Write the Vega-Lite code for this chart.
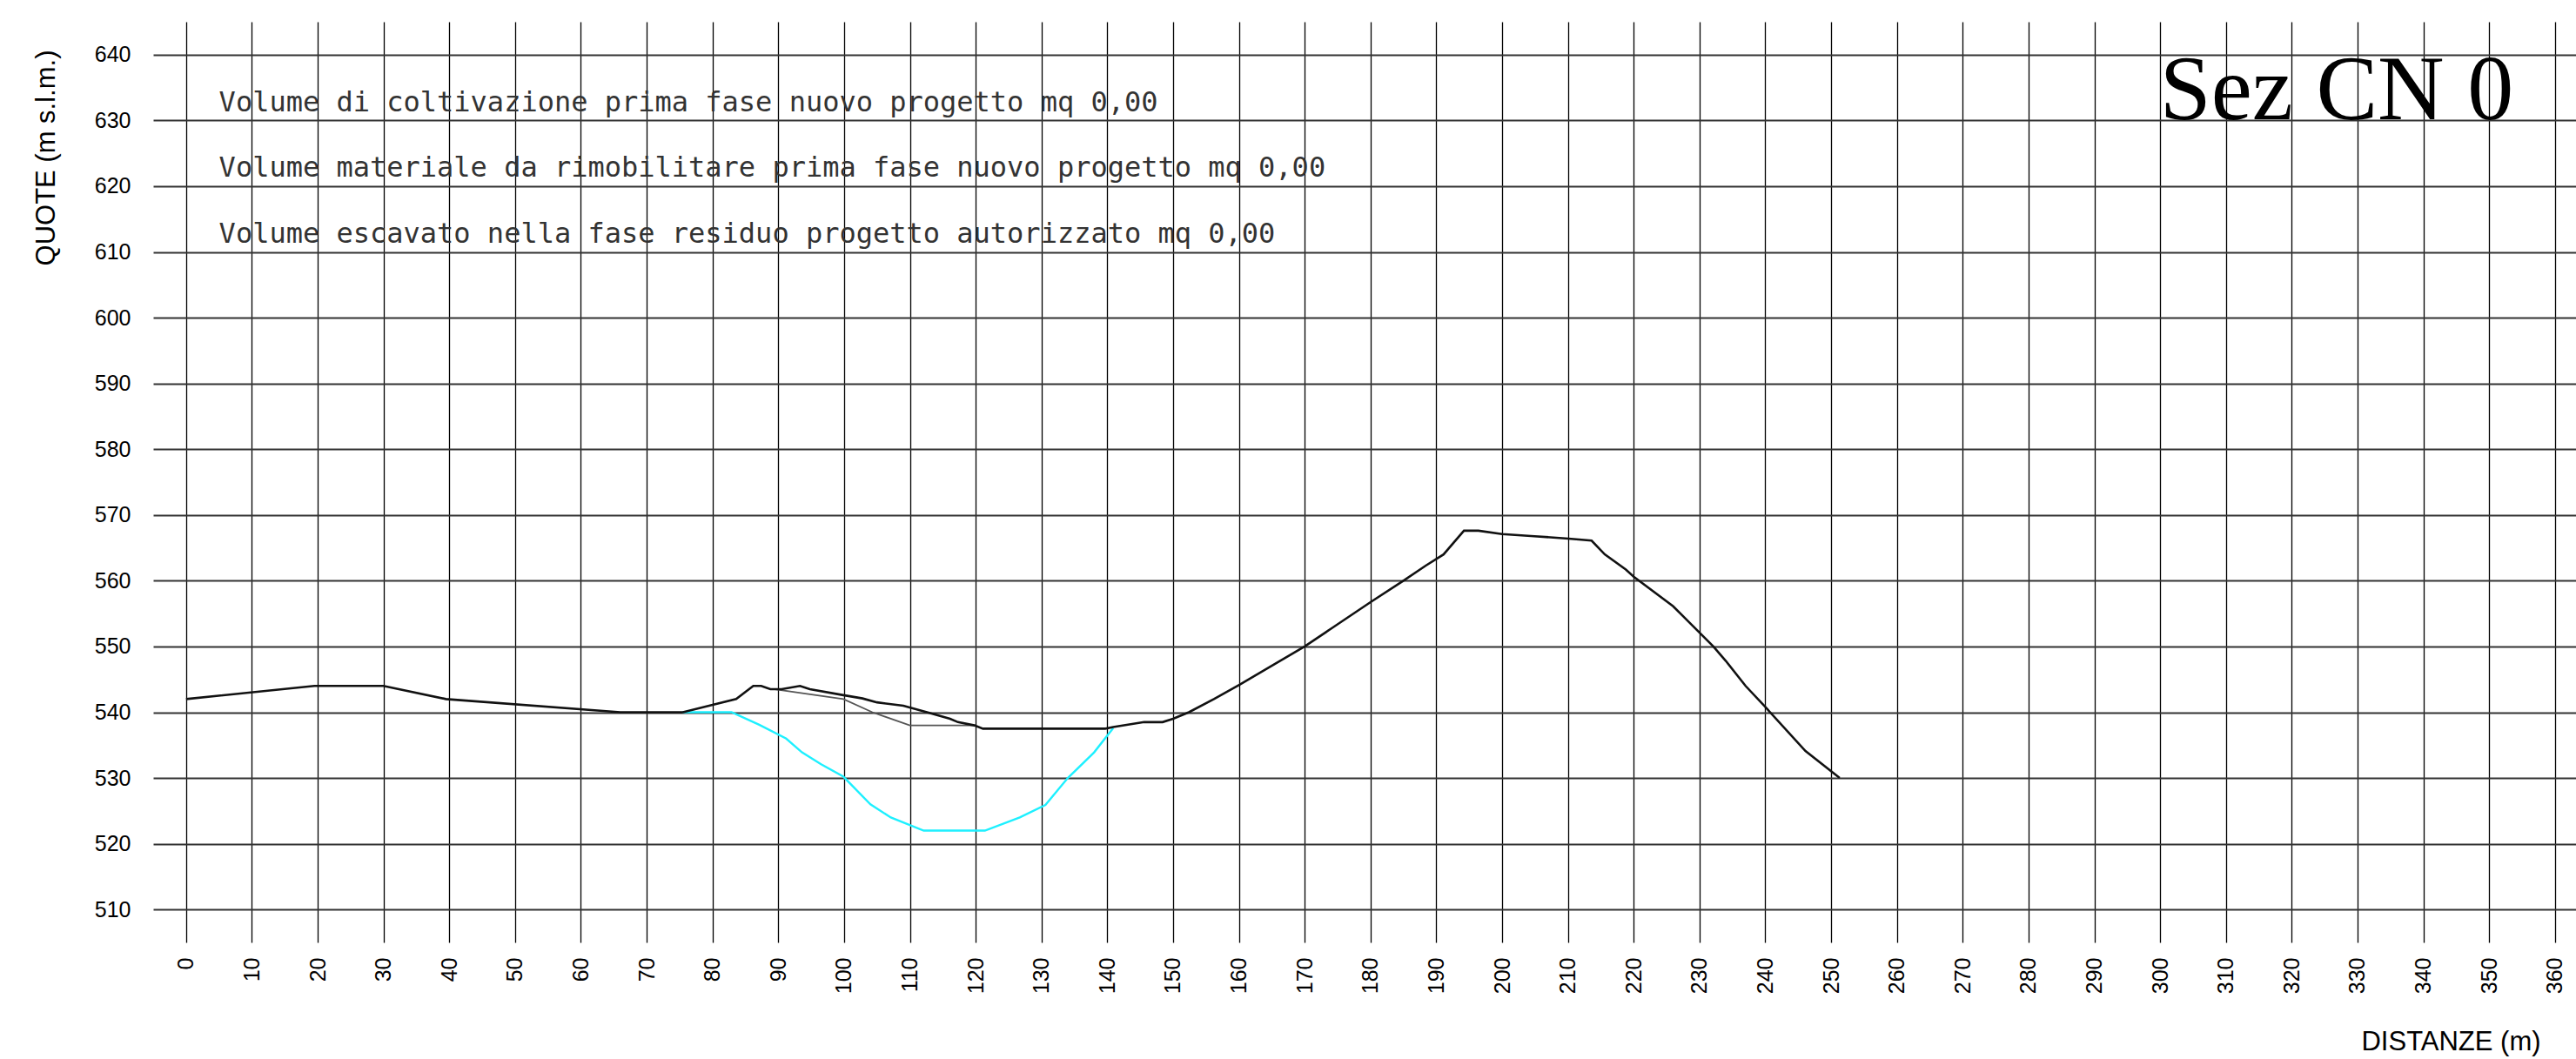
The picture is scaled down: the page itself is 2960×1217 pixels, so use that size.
{
  "$schema": "https://vega.github.io/schema/vega-lite/v6.json",
  "width": 2784,
  "height": 1058,
  "autosize": {"type": "none"},
  "padding": {"left": 176, "top": 25, "right": 0, "bottom": 134},
  "background": "white",
  "config": {"view": {"stroke": null}},
  "datasets": {
    "profile": [
      {"s": "terreno", "x": 0, "y": 542},
      {"s": "terreno", "x": 19.5, "y": 544},
      {"s": "terreno", "x": 30, "y": 544},
      {"s": "terreno", "x": 39.5, "y": 542},
      {"s": "terreno", "x": 66, "y": 540},
      {"s": "terreno", "x": 75.5, "y": 540},
      {"s": "terreno", "x": 83.6, "y": 542},
      {"s": "terreno", "x": 86.2, "y": 544},
      {"s": "terreno", "x": 87.4, "y": 544},
      {"s": "terreno", "x": 88.8, "y": 543.5},
      {"s": "terreno", "x": 90.5, "y": 543.5},
      {"s": "terreno", "x": 93.3, "y": 544},
      {"s": "terreno", "x": 94.8, "y": 543.5},
      {"s": "terreno", "x": 99.9, "y": 542.6},
      {"s": "terreno", "x": 102.8, "y": 542.1},
      {"s": "terreno", "x": 105, "y": 541.5},
      {"s": "terreno", "x": 109, "y": 541},
      {"s": "terreno", "x": 112.6, "y": 540},
      {"s": "terreno", "x": 116.1, "y": 539},
      {"s": "terreno", "x": 117.3, "y": 538.5},
      {"s": "terreno", "x": 119.8, "y": 538},
      {"s": "terreno", "x": 121.1, "y": 537.5},
      {"s": "terreno", "x": 139.7, "y": 537.5},
      {"s": "terreno", "x": 140.9, "y": 537.75},
      {"s": "terreno", "x": 145.6, "y": 538.5},
      {"s": "terreno", "x": 148.4, "y": 538.5},
      {"s": "terreno", "x": 150, "y": 539},
      {"s": "terreno", "x": 152.4, "y": 540},
      {"s": "terreno", "x": 156.2, "y": 542},
      {"s": "terreno", "x": 160.1, "y": 544.2},
      {"s": "terreno", "x": 170, "y": 550},
      {"s": "terreno", "x": 174, "y": 552.7},
      {"s": "terreno", "x": 180.1, "y": 556.8},
      {"s": "terreno", "x": 185, "y": 560},
      {"s": "terreno", "x": 188.4, "y": 562.3},
      {"s": "terreno", "x": 191.1, "y": 564},
      {"s": "terreno", "x": 194.2, "y": 567.6},
      {"s": "terreno", "x": 196.4, "y": 567.6},
      {"s": "terreno", "x": 200, "y": 567.1},
      {"s": "terreno", "x": 204.4, "y": 566.8},
      {"s": "terreno", "x": 210.1, "y": 566.4},
      {"s": "terreno", "x": 213.6, "y": 566.1},
      {"s": "terreno", "x": 215.6, "y": 564},
      {"s": "terreno", "x": 218.8, "y": 561.7},
      {"s": "terreno", "x": 220, "y": 560.6},
      {"s": "terreno", "x": 226, "y": 556.1},
      {"s": "terreno", "x": 227.9, "y": 554.2},
      {"s": "terreno", "x": 232.1, "y": 550},
      {"s": "terreno", "x": 234, "y": 547.8},
      {"s": "terreno", "x": 237, "y": 544},
      {"s": "terreno", "x": 240, "y": 540.8},
      {"s": "terreno", "x": 246.1, "y": 534.1},
      {"s": "terreno", "x": 251.3, "y": 530},
      {"s": "autorizzato", "x": 89.5, "y": 543.5},
      {"s": "autorizzato", "x": 99.9, "y": 542},
      {"s": "autorizzato", "x": 104.3, "y": 540},
      {"s": "autorizzato", "x": 110, "y": 538},
      {"s": "autorizzato", "x": 119.9, "y": 538},
      {"s": "scavo", "x": 75.4, "y": 540},
      {"s": "scavo", "x": 82.9, "y": 540},
      {"s": "scavo", "x": 87.1, "y": 538.1},
      {"s": "scavo", "x": 91.2, "y": 536},
      {"s": "scavo", "x": 93.6, "y": 533.9},
      {"s": "scavo", "x": 96.5, "y": 532.1},
      {"s": "scavo", "x": 99.9, "y": 530.2},
      {"s": "scavo", "x": 104, "y": 526},
      {"s": "scavo", "x": 107.1, "y": 524},
      {"s": "scavo", "x": 112.1, "y": 522},
      {"s": "scavo", "x": 121.4, "y": 522},
      {"s": "scavo", "x": 126.7, "y": 524},
      {"s": "scavo", "x": 130.6, "y": 525.9},
      {"s": "scavo", "x": 134, "y": 530},
      {"s": "scavo", "x": 138, "y": 533.9},
      {"s": "scavo", "x": 140.9, "y": 537.6}
    ],
    "notes": [
      {"x": 5, "y": 631.4, "t": "Volume di coltivazione prima fase nuovo progetto mq 0,00"},
      {"x": 5, "y": 621.5, "t": "Volume materiale da rimobilitare prima fase nuovo progetto mq 0,00"},
      {"x": 5, "y": 611.4, "t": "Volume escavato nella fase residuo progetto autorizzato mq 0,00"}
    ],
    "title": [
      {"x": 353.7, "y": 630.2, "t": "Sez CN 0"}
    ]
  },
  "layer": [
    {
      "data": {"name": "profile"},
      "transform": [{"filter": "datum.s === 'autorizzato'"}],
      "mark": {"type": "line", "color": "#555555", "strokeWidth": 1.8},
      "encoding": {
        "x": {
          "field": "x", "type": "quantitative",
          "scale": {"domain": [-5, 363.2], "nice": false, "zero": false},
          "axis": {
            "values": [0,10,20,30,40,50,60,70,80,90,100,110,120,130,140,150,160,170,180,190,200,210,220,230,240,250,260,270,280,290,300,310,320,330,340,350,360],
            "grid": true, "gridColor": "#000000", "gridWidth": 1.3, "gridOpacity": 1,
            "ticks": false, "domain": false,
            "labelAngle": -90, "labelAlign": "right", "labelBaseline": "middle",
            "labelFont": "Liberation Sans", "labelFontSize": 25, "labelColor": "#000000",
            "labelPadding": 17, "labelOverlap": false, "labelFlush": false, "labelBound": false,
            "title": "DISTANZE (m)", "titleFont": "Liberation Sans", "titleFontSize": 31,
            "titleFontWeight": "normal", "titleColor": "#000000",
            "titleX": 2640, "titleY": 123, "titleAlign": "center", "titleBaseline": "alphabetic"
          }
        },
        "y": {
          "field": "y", "type": "quantitative",
          "scale": {"domain": [505, 645], "nice": false, "zero": false},
          "axis": {
            "values": [510,520,530,540,550,560,570,580,590,600,610,620,630,640],
            "grid": true, "gridColor": "#333333", "gridWidth": 1.8, "gridOpacity": 1,
            "ticks": false, "domain": false,
            "labelFont": "Liberation Sans", "labelFontSize": 25, "labelColor": "#000000",
            "labelPadding": 26, "labelOverlap": false, "labelFlush": false,
            "title": "QUOTE (m s.l.m.)", "titleFont": "Liberation Sans", "titleFontSize": 31,
            "titleFontWeight": "normal", "titleColor": "#000000",
            "titleAngle": -90, "titleX": -123, "titleY": 32,
            "titleAlign": "right", "titleBaseline": "middle"
          }
        }
      }
    },
    {
      "data": {"name": "profile"},
      "transform": [{"filter": "datum.s === 'scavo'"}],
      "mark": {"type": "line", "color": "#1ef0ff", "strokeWidth": 2.4},
      "encoding": {
        "x": {"field": "x", "type": "quantitative"},
        "y": {"field": "y", "type": "quantitative"}
      }
    },
    {
      "data": {"name": "profile"},
      "transform": [{"filter": "datum.s === 'terreno'"}],
      "mark": {"type": "line", "color": "#111111", "strokeWidth": 2.6},
      "encoding": {
        "x": {"field": "x", "type": "quantitative"},
        "y": {"field": "y", "type": "quantitative"}
      }
    },
    {
      "data": {"name": "notes"},
      "mark": {"type": "text", "align": "left", "baseline": "alphabetic", "font": "DejaVu Sans Mono", "fontSize": 32, "color": "#333333"},
      "encoding": {
        "x": {"field": "x", "type": "quantitative"},
        "y": {"field": "y", "type": "quantitative"},
        "text": {"field": "t"}
      }
    },
    {
      "data": {"name": "title"},
      "mark": {"type": "text", "align": "right", "baseline": "alphabetic", "font": "Liberation Serif", "fontSize": 106, "color": "#000000"},
      "encoding": {
        "x": {"field": "x", "type": "quantitative"},
        "y": {"field": "y", "type": "quantitative"},
        "text": {"field": "t"}
      }
    }
  ]
}
